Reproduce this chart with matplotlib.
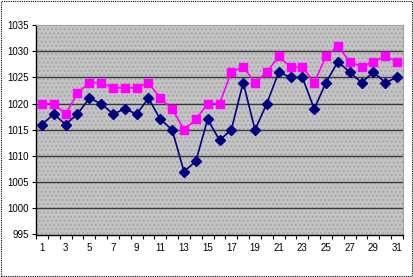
import matplotlib
matplotlib.use("Agg")
import matplotlib.pyplot as plt
from matplotlib.patches import Rectangle

plt.rcParams['font.family'] = ['Liberation Sans', 'DejaVu Sans']

days = list(range(1, 32))
blue = [1016, 1018, 1016, 1018, 1021, 1020, 1018, 1019, 1018, 1021, 1017, 1015, 1007, 1009, 1017, 1013,
        1015, 1024, 1015, 1020, 1026, 1025, 1025, 1019, 1024, 1028, 1026, 1024, 1026, 1024, 1025]
pink = [1020, 1020, 1018, 1022, 1024, 1024, 1023, 1023, 1023, 1024, 1021, 1019, 1015, 1017, 1020, 1020,
        1026, 1027, 1024, 1026, 1029, 1027, 1027, 1024, 1029, 1031, 1028, 1027, 1028, 1029, 1028]
yticks = list(range(995, 1040, 5))
xlabels = list(range(1, 32, 2))

fig = plt.figure(figsize=(4.13, 2.77), dpi=100)
ax = fig.add_axes([36 / 413, 42.5 / 277, 367 / 413, 209.5 / 277])
ax.set_facecolor('#c4c4c4')
ax.add_patch(Rectangle((0, 0), 1, 1, transform=ax.transAxes, facecolor='none',
                       edgecolor='#a8a8a8', hatch='....', lw=0, zorder=0))

for y in yticks[1:-1]:
    ax.axhline(y, color='#3a3a3a', lw=1.0, zorder=1)

ax.plot(days, pink, color='#ff00ff', marker='s', markersize=6, lw=1.2, zorder=3)
ax.plot(days, blue, color='#000080', marker='D', markersize=5, lw=1.2, zorder=4)

ax.set_xlim(0.5, 31.5)
ax.set_ylim(995, 1035)
ax.set_yticks(yticks)
ax.set_xticks(xlabels)
ax.set_xticks([d + 0.5 for d in range(0, 32)], minor=True)
ax.tick_params(axis='x', which='major', length=0, labelsize=7, pad=6)
ax.tick_params(axis='x', which='minor', length=3, direction='out', width=0.8)
ax.tick_params(axis='y', length=3, width=0.8, labelsize=7, pad=2)

for s in ['top', 'right']:
    ax.spines[s].set_color('#a0a0a0')
    ax.spines[s].set_linewidth(0.8)
for s in ['left', 'bottom']:
    ax.spines[s].set_color('black')
    ax.spines[s].set_linewidth(1.0)

fig.patches.append(Rectangle((0.002, 0.003), 0.995, 0.993, transform=fig.transFigure,
                             fill=False, edgecolor='black', linestyle=(0, (1, 1)), lw=0.8))

fig.savefig('out.png', dpi=100)
